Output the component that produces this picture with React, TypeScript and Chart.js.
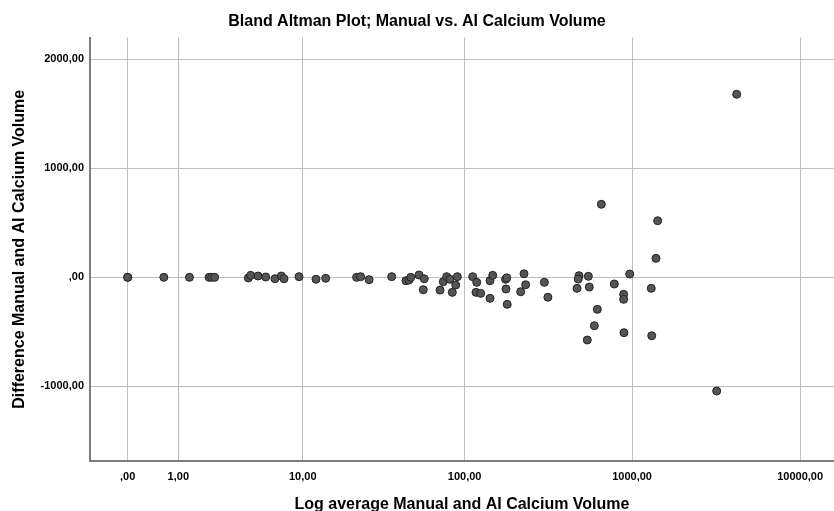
import React, { useEffect, useRef } from "react";
import { Chart, registerables } from "chart.js";

Chart.register(...registerables);

// Average of manual and AI calcium volume (raw units, plotted on SPSS safe-log axis)
const avgValues: number[] = [
  0, 0, 0.64, 1.33, 2.05, 2.16, 2.29,
  4.22, 4.39, 4.96, 5.62, 6.52, 7.2, 7.51, 9.45, 12.19, 14.06,
  22.0, 23.3, 26.3, 36.2, 44.2, 46.1, 47.3, 53.1, 57.1, 56.3,
  71.1, 74.4, 78.0, 81.7, 90.4, 88.4, 84.3, 111.8, 118.2, 117,
  124.9, 142, 147.4, 142, 176, 179, 177, 180, 216.7, 226.8,
  232, 300, 315, 483, 478, 549, 470, 556, 784, 891,
  891, 621, 596, 895, 541, 968, 656, 1421, 1388, 1301,
  1309, 3189, 4195,
];

// Difference manual - AI calcium volume
const diffValues: number[] = [
  0, 0, 0, 0, 0, 0, 0,
  -6, 18, 12, 3, -13, 12, -13, 6, -18, -9,
  0, 6, -22, 6, -31, -25, 0, 21, -13, -114,
  -117, -40, 6, -18, 6, -71, -138, 6, -46, -138,
  -147, -31, 18, -193, -18, -5, -107, -248, -132, 33,
  -68, -46, -183, 15, -16, 9, -101, -89, -61, -156,
  -202, -294, -444, -508, -575, 30, 670, 519, 174, -101,
  -536, -1043, 1679,
];

const xTickValues: number[] = [0, 1, 10, 100, 1000, 10000];
const xTickLabels: string[] = [",00", "1,00", "10,00", "100,00", "1000,00", "10000,00"];
const yTickValues: number[] = [-1000, 0, 1000, 2000];
const yTickLabels: string[] = ["-1000,00", ",00", "1000,00", "2000,00"];

const safeLog = (v: number) => Math.log10(1 + v);

const FONT = "'Liberation Sans', Arial, sans-serif";

export default function App() {
  const ref = useRef<HTMLCanvasElement | null>(null);

  useEffect(() => {
    document.body.style.margin = "0";
    const canvas = ref.current;
    if (!canvas) return;
    const points = avgValues.map((a, i) => ({ x: safeLog(a), y: diffValues[i] }));
    const chart = new Chart(canvas, {
      type: "scatter",
      data: {
        datasets: [
          {
            data: points,
            backgroundColor: "#555555",
            borderColor: "#222222",
            borderWidth: 1,
            pointRadius: 4,
            pointHoverRadius: 4,
          },
        ],
      },
      options: {
        animation: false,
        responsive: false,
        devicePixelRatio: 1,
        layout: { padding: 0, autoPadding: false },
        plugins: {
          legend: { display: false },
          tooltip: { enabled: false },
          title: {
            display: true,
            text: "Bland Altman Plot; Manual vs. AI Calcium Volume",
            color: "#000",
            font: { family: FONT, size: 16, weight: "bold", lineHeight: 1.2 },
            padding: { top: 12, bottom: 6.3 },
          },
        },
        scales: {
          x: {
            type: "linear",
            min: -0.2243,
            max: 4.2017,
            afterBuildTicks: (scale: any) => {
              scale.ticks = xTickValues.map((v) => ({ value: safeLog(v) }));
            },
            afterFit: (scale: any) => {
              scale.height = 50;
              scale.paddingLeft = 0;
              scale.paddingRight = 0;
            },
            ticks: {
              autoSkip: false,
              maxRotation: 0,
              padding: 9,
              color: "#000",
              font: { family: FONT, size: 11, weight: "bold" },
              callback: (_v: any, i: number) => xTickLabels[i],
            },
            grid: { color: "#bdbdbd", lineWidth: 1, drawTicks: false },
            border: { display: true, color: "#7d7d7d", width: 2 },
            title: {
              display: true,
              text: "Log average Manual and AI Calcium Volume",
              color: "#000",
              font: { family: FONT, size: 16, weight: "bold", lineHeight: 0.84 },
              padding: 0,
            },
          },
          y: {
            type: "linear",
            min: -1685,
            max: 2200,
            afterBuildTicks: (scale: any) => {
              scale.ticks = yTickValues.map((v) => ({ value: v }));
            },
            afterFit: (scale: any) => {
              scale.width = 90;
              scale.paddingTop = 0;
              scale.paddingBottom = 0;
            },
            ticks: {
              autoSkip: false,
              padding: 6,
              color: "#000",
              font: { family: FONT, size: 11, weight: "bold" },
              callback: (_v: any, i: number) => yTickLabels[i],
            },
            grid: { color: "#bdbdbd", lineWidth: 1, drawTicks: false },
            border: { display: true, color: "#7d7d7d", width: 2 },
            title: {
              display: true,
              text: "Difference Manual and AI Calcium Volume",
              color: "#000",
              font: { family: FONT, size: 16, weight: "bold", lineHeight: 1.2 },
              padding: { top: 10, bottom: 0 },
            },
          },
        },
      },
    });
    return () => chart.destroy();
  }, []);

  return (
    <div style={{ width: 834, height: 511, background: "#fff" }}>
      <canvas ref={ref} width={834} height={511} style={{ display: "block" }} />
    </div>
  );
}
